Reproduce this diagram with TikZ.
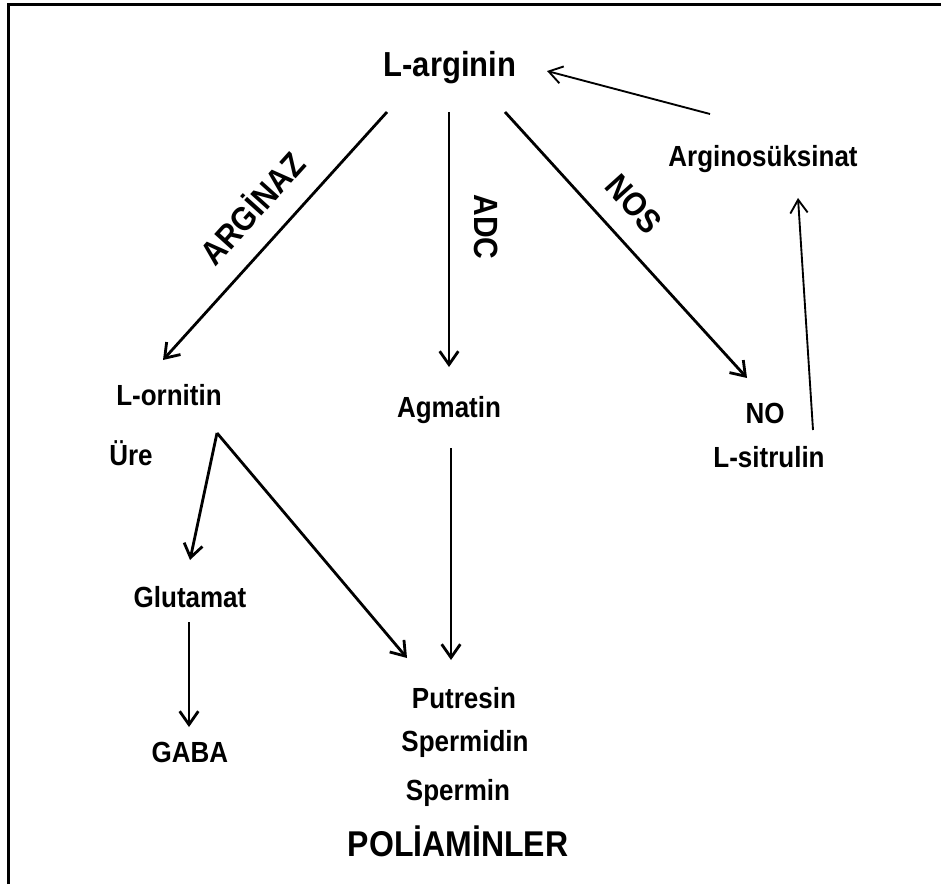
\documentclass[tikz,border=0pt]{standalone}
\usepackage{fontspec}
\setmainfont{Liberation Sans}
\usetikzlibrary{arrows.meta,calc}
% labels are set slightly taller than the font's natural shape
\newcommand{\tallbox}[1]{\scalebox{1}[1.12]{#1}}
\tikzset{
  lbl/.style={font=\bfseries\fontsize{19.5pt}{22pt}\selectfont, anchor=base, inner sep=0pt},
  biglbl/.style={font=\bfseries\fontsize{23.25pt}{26pt}\selectfont, anchor=base, inner sep=0pt},
  enz/.style={font=\bfseries\fontsize{22.5pt}{25pt}\selectfont, anchor=center, inner sep=0pt},
  arr/.style={line width=2.1pt, -{Straight Barb[length=10pt,width=14pt,line width=2.1pt]}},
  thinarr/.style={line width=1.4pt, -{Straight Barb[length=10pt,width=13pt,line width=1.4pt]}},
  frame/.style={line width=2.25pt}
}
\begin{document}
\begin{tikzpicture}[x=0.75pt,y=-0.75pt]
  \useasboundingbox (0,0) rectangle (941,884);
  % frame: top and left edges only
  \draw[frame] (8,884) -- (8,5) -- (941,5);

  % metabolites
  \node[biglbl] (arg) at (450,77) {\tallbox{L-arginin}};
  \node[lbl] (asuc) at (763,167) {\tallbox{Arginosüksinat}};
  \node[lbl] (orn) at (169,405) {\tallbox{L-ornitin}};
  \node[lbl] (ure) at (131,465) {\tallbox{Üre}};
  \node[lbl] (agm) at (449,417) {\tallbox{Agmatin}};
  \node[lbl] (no) at (765,423) {\tallbox{NO}};
  \node[lbl] (sit) at (769,467) {\tallbox{L-sitrulin}};
  \node[lbl] (glu) at (190,607) {\tallbox{Glutamat}};
  \node[lbl] (gaba) at (190,762) {\tallbox{GABA}};
  \node[lbl] (put) at (464,708) {\tallbox{Putresin}};
  \node[lbl] (spd) at (465,751) {\tallbox{Spermidin}};
  \node[lbl] (spm) at (458,800) {\tallbox{Spermin}};
  \node[biglbl, font=\bfseries\fontsize{24pt}{27pt}\selectfont] (pol) at (458,856) {\tallbox{POLİAMİNLER}};

  % enzymes
  \node[enz, rotate=48] (argz) at (251,207) {\tallbox{ARGİNAZ}};
  \node[enz, rotate=-90] (adc) at (486,227) {\tallbox{ADC}};
  \node[enz, rotate=-48] (nos) at (634,204) {\tallbox{NOS}};

  % reactions
  \draw[arr] ($(arg.base)+(-63,35)$) -- ($(orn.base)+(-6,-45)$);
  \draw[arr] ($(arg.base)+(-1,35)$) -- ($(agm.base)+(0,-50)$);
  \draw[arr] ($(arg.base)+(55,35)$) -- ($(no.base)+(-18,-45)$);
  \draw[thinarr] ($(sit.base)+(44,-37)$) -- ($(asuc.base)+(35,31)$);
  \draw[thinarr] ($(asuc.base)+(-53,-53)$) -- ($(arg.base)+(97,-6)$);

  \coordinate (fork) at ($(orn.base)+(48,28)$);
  \draw[arr] (fork) -- ($(glu.base)+(0,-47)$);
  \draw[arr] (fork) -- ($(put.base)+(-57,-50)$);
  \draw[arr] ($(agm.base)+(2,31)$) -- ($(put.base)+(-13,-48)$);
  \draw[arr] ($(glu.base)+(-1,15)$) -- ($(gaba.base)+(-1,-35)$);
\end{tikzpicture}
\end{document}
